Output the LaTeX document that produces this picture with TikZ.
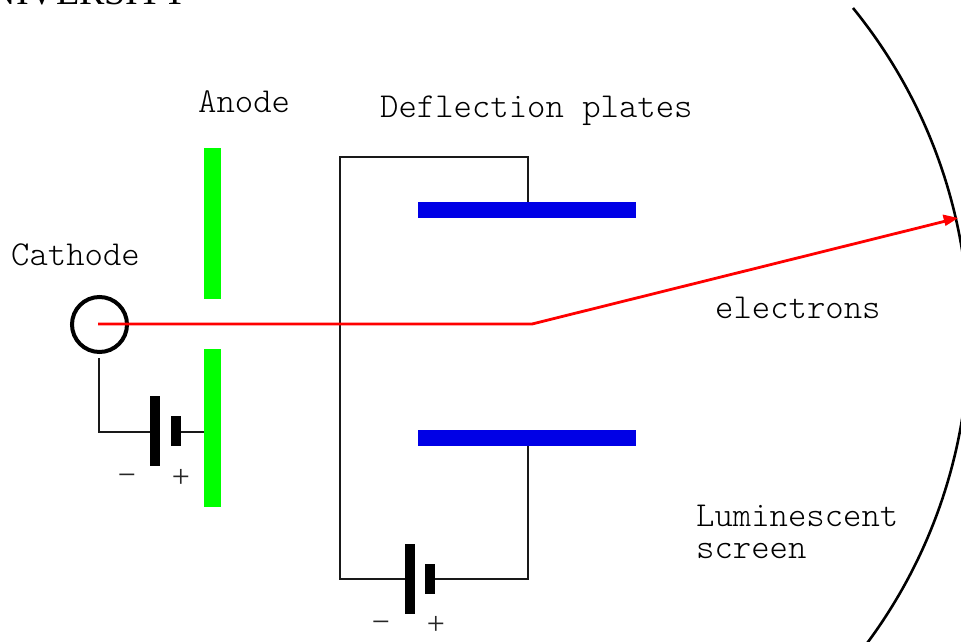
\documentclass[tikz,border=0pt]{standalone}
\usepackage{fontspec}
\setmainfont{Liberation Serif}
\setmonofont{Latin Modern Mono Light}
\usetikzlibrary{arrows.meta,calc}
\definecolor{plategreen}{RGB}{0,255,0}
\definecolor{plateblue}{RGB}{0,0,230}
\tikzset{
  x=1pt,y=-1pt,
  lbl/.style={anchor=base west,inner sep=0pt,font=\ttfamily\fontsize{35}{36}\selectfont},
  sign/.style={inner sep=0pt,font=\fontsize{32}{34}\selectfont,text=black!85},
  anodeplate/.style={fill=plategreen,inner sep=0pt,minimum width=17pt},
  defplate/.style={fill=plateblue,inner sep=0pt,minimum width=218pt,minimum height=16pt},
  cell/.style={fill=black,inner sep=0pt,minimum width=10pt},
  wire/.style={draw=black!90,line width=1.6pt,line join=miter},
  beam/.style={draw=red,line width=2.8pt,line join=round}
}
\begin{document}
\begin{tikzpicture}
\useasboundingbox (0,0) rectangle (961,642);
\begin{scope}
\clip (0,0) rectangle (961,642);
\node[anchor=base west,inner sep=0pt,font=\fontsize{38}{40}\selectfont] (uni) at (-39,5) {UNIVERSITY};
\draw[black,line width=2.6pt] (853,8) arc[start angle=-39.1,end angle=39.5,radius=518];
\end{scope}

\node[anodeplate,minimum height=151pt] (anodeA) at (212.5,223.5) {};
\node[anodeplate,minimum height=158pt] (anodeB) at (212.5,428) {};
\node[defplate] (plateT) at (527,210) {};
\node[defplate] (plateB) at (527,438) {};

\node[draw=black,line width=4pt,circle,inner sep=0pt,minimum size=55pt] (cath) at (99.5,324.5) {};

\node[cell,minimum height=70pt] (c1long) at (155,431) {};
\node[cell,minimum height=30pt] (c1short) at (175.5,431) {};
\node[cell,minimum height=70pt] (c2long) at (410,578.5) {};
\node[cell,minimum height=30pt] (c2short) at (430,578.5) {};

\coordinate (bend) at (532,324);
\coordinate (hit) at (958,218);
\coordinate (beamstart) at (98,324);

\draw[wire] (99,358) |- (c1long.west |- 0,432);
\draw[wire] (c1short.east |- 0,432) -- (anodeB.west |- 0,432);
\draw[wire] (plateT.north -| 528,0) |- (340,157) |- (c2long.west |- 0,579);
\draw[wire] (c2short.east |- 0,579) -| (plateB.south -| 528,0);

\draw[beam] (beamstart) -- (bend) -- ($(bend)!0.975!(hit)$);
\fill[red] (hit) -- (942.5,214.5) -- (945.5,226) -- cycle;

\node[lbl] (lanode) at (198,112) {Anode};
\node[lbl] (ldefl) at (380,117) {Deflection plates};
\node[lbl] (lcath) at (11,265) {Cathode};
\node[lbl] (lelec) at (715,318) {electrons};
\node[lbl] (llum) at (696,526) {Luminescent};
\node[lbl] (lscr) at (696,558) {screen};

\node[sign] (m1) at (127,480) {\char"2212};
\node[sign] (p1) at (181,478) {+};
\node[sign] (m2) at (381,627) {\char"2212};
\node[sign] (p2) at (436,625) {+};
\end{tikzpicture}
\end{document}
